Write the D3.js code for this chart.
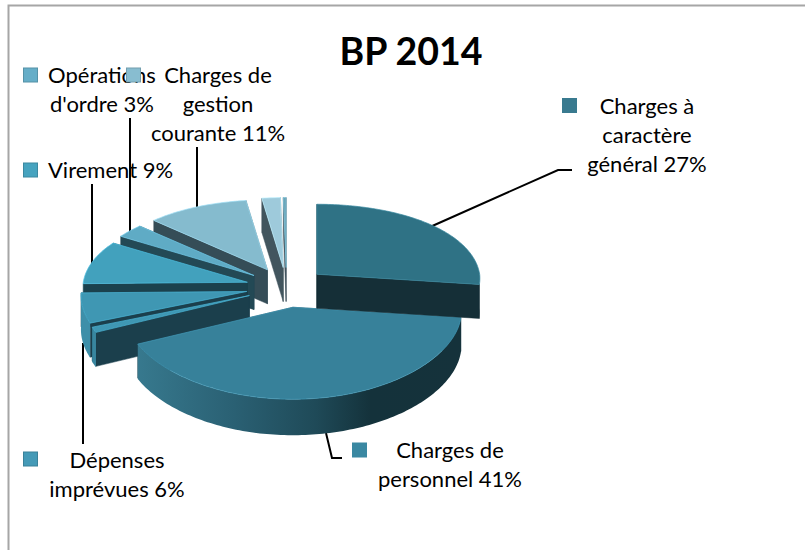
<!DOCTYPE html>
<html><head><meta charset="utf-8">
<script src="https://cdn.jsdelivr.net/npm/d3@7"></script>
<style>html,body{margin:0;padding:0;background:#fff}svg{display:block}</style>
</head><body><svg id="c" width="805" height="550"></svg>
<script>
const title = "BP 2014";
const categories = ["Charges à caractère général","Charges de personnel","Autres","Dépenses imprévues","Virement","Opérations d'ordre","Charges de gestion courante","Divers","Reste"];
const values = [27,41,1,5.8,9,3,11,2,0.3];
const topColors  = ["#2f7285","#37819a","#3f97b3","#3f97b3","#42a1bd","#5fabc5","#85bbce","#9ecadb","#6aa5b8"];
const wallColors = ["#152f37","#1a3d4a","#1b3f4c","#1b3f4c","#1b414d","#234955","#354d57","#42555e","#42555e"];
const rimColors  = ["#152f37",null,"#38869f","#3d8fa9","#3d8fa9","#4d9ab3","#6ea3b5","#7fb0c0","#6aa5b8"];
const swatchColors = ["#397a8f","#3a88a2","#4a9db8","#459ab7","#46a3bf","#66aec8","#88bdd0","#9ecadb","#6aa5b8"];
const paintOrder = [8,7,6,5,4,3,2,1,0];
const labels = [
  {lines:["Charges à","caractère","général 27%"],x:647,y:114,sw:[562.5,98.5],color:0},
  {lines:["Charges de","personnel 41%"],x:450,y:458,sw:[352.5,443],color:1},
  {lines:["Dépenses","imprévues 6%"],x:117,y:468,sw:[23.5,452],color:3},
  {lines:["Virement 9%"],x:110.5,y:178,sw:[23.5,163],color:4},
  {lines:["Opérations","d'ordre 3%"],x:102,y:83,sw:[23.5,68],color:5},
  {lines:["Charges de","gestion","courante 11%"],x:218,y:83,sw:[126.5,68],color:6}
];
const lineHeight = 29;

const svg = d3.select("#c");
const defs = svg.append("defs");
const grad = defs.append("linearGradient").attr("id","rim").attr("gradientUnits","userSpaceOnUse")
  .attr("x1",137).attr("x2",462).attr("y1",0).attr("y2",0);
[[0,"#37798e"],[0.3,"#2a6073"],[0.55,"#1f4a58"],[0.72,"#14323b"],[1,"#15323b"]]
  .forEach(s=>grad.append("stop").attr("offset",s[0]).attr("stop-color",s[1]));

svg.append("path").attr("d","M8.5,550V5.5H805").attr("fill","none").attr("stroke","#a6a6a6").attr("stroke-width",2);

const cx=286.5, cy=287.5, ex=40.5, ey=20, depth=34;
const pie = d3.pie().sort(null).value(d=>d)(values);
const project = (t,r,m) => {
  const c=Math.cos(t), s=Math.sin(t);
  const rx=165*(1-(c>0?0.08:0.05)*c)*(1-0.02*Math.cos(m)), ry=81-11*c;
  return [cx+ex*Math.sin(m)+rx*r*s, cy-ey*Math.cos(m)-ry*r*c];
};
const line = d3.line();
const shift = (p,h=depth) => [p[0],p[1]+h];

const angles = (a0,a1) => {
  const n=Math.max(2,Math.ceil((a1-a0)/0.02));
  return d3.range(n+1).map(i=>a0+(a1-a0)*i/n);
};

const leaders = [
  [[430,227],[558,170],[572,170]],
  [[326,433],[332,458],[342,458]],
  [[83,343],[83,444]],
  [[92,184],[92,264]],
  [[130,118],[130,236]],
  [[197,147],[197,209]]
];
leaders.forEach(pts=>svg.append("path").attr("d",line(pts)).attr("fill","none").attr("stroke","#000").attr("stroke-width",2));

paintOrder.forEach(i=>{
  const d=pie[i], m=(d.startAngle+d.endAngle)/2;
  const g=svg.append("g");
  const apex=project(0,0,m);
  [d.endAngle,d.startAngle].forEach(a=>{
    const e=project(a,1,m);
    g.append("path").attr("d",line([apex,e,shift(e),shift(apex)])+"Z").attr("fill",wallColors[i]).attr("stroke",wallColors[i]).attr("stroke-width",0.5);
  });
  const a0=Math.max(d.startAngle,Math.PI/2), a1=Math.min(d.endAngle,Math.PI*1.5);
  if(a1>a0){
    const as=angles(a0,a1);
    const upper=as.map(a=>project(a,1,m));
    const lower=as.map(a=>shift(project(a,1,m),depth-2*Math.cos(a)));
    g.append("path").attr("d",line(upper.concat(lower.reverse()))+"Z").attr("fill",rimColors[i]||"url(#rim)");
  }
  const top=[apex].concat(angles(d.startAngle,d.endAngle).map(a=>project(a,1,m)));
  g.append("path").attr("d",line(top)+"Z").attr("fill",topColors[i]).attr("stroke",d3.color(topColors[i]).brighter(0.5)).attr("stroke-width",0.7).attr("stroke-linejoin","round");
});

svg.append("text").text(title).attr("x",411).attr("y",65).attr("text-anchor","middle")
  .attr("font-family","Lato, Carlito, sans-serif").attr("font-weight",700).attr("font-size",37.5).attr("fill","#000");

labels.forEach(l=>{
  const t=svg.append("text").attr("font-family","Lato, Carlito, sans-serif").attr("font-size",22).attr("fill","#000").attr("text-anchor","middle");
  l.lines.forEach((s,k)=>t.append("tspan").attr("x",l.x).attr("y",l.y+k*lineHeight).text(s));
  const col=swatchColors[l.color];
  svg.append("rect").attr("x",l.sw[0]).attr("y",l.sw[1]).attr("width",14).attr("height",14)
    .attr("fill",col).attr("stroke",l.color<2?col:d3.color(col).darker(0.5)).attr("stroke-width",1);
});
</script></body></html>
